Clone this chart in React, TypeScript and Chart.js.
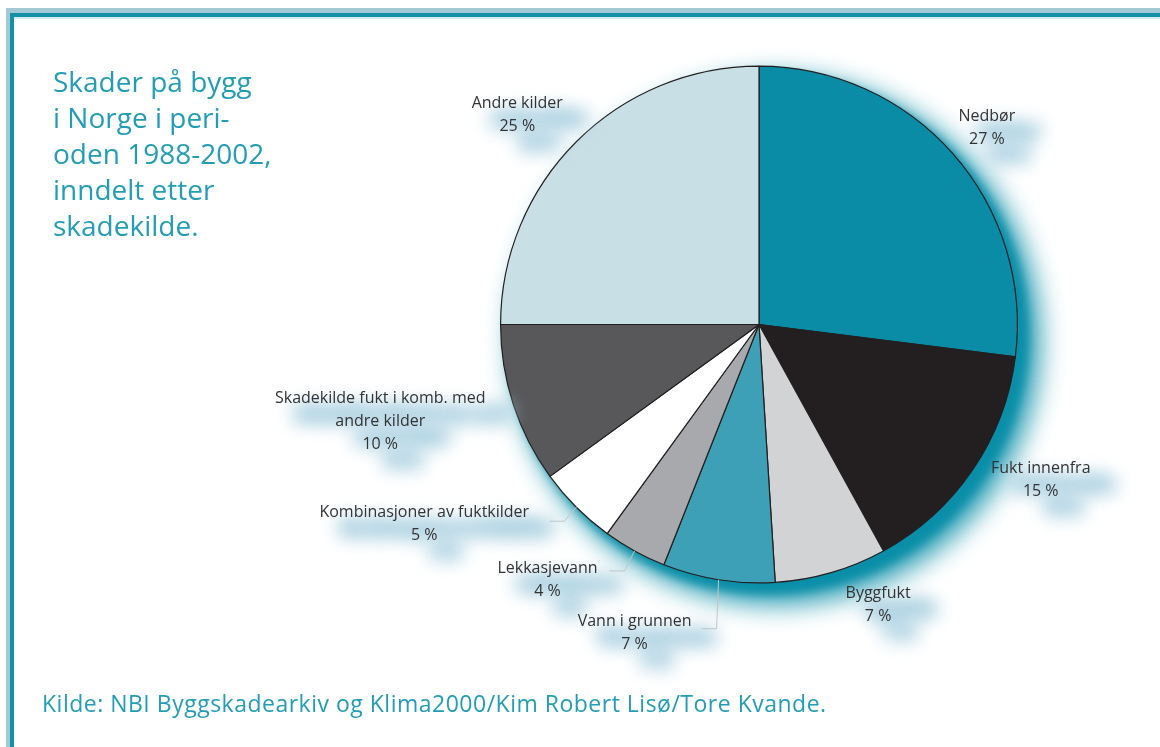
import React, { useEffect, useRef } from "react";
import { Chart, registerables } from "chart.js";

Chart.register(...registerables);

// ---- data ----
const categories = [
  "Nedbør",
  "Fukt innenfra",
  "Byggfukt",
  "Vann i grunnen",
  "Lekkasjevann",
  "Kombinasjoner av fuktkilder",
  "Skadekilde fukt i komb. med andre kilder",
  "Andre kilder",
];
const labelLines = [
  ["Nedbør"],
  ["Fukt innenfra"],
  ["Byggfukt"],
  ["Vann i grunnen"],
  ["Lekkasjevann"],
  ["Kombinasjoner av fuktkilder"],
  ["Skadekilde fukt i komb. med", "andre kilder"],
  ["Andre kilder"],
];
const shares = [27, 15, 7, 7, 4, 5, 10, 25];
const sliceColors = [
  "#0a8ca6",
  "#231f20",
  "#d1d3d4",
  "#3ea0b7",
  "#a7a9ac",
  "#ffffff",
  "#58585a",
  "#c9dfe6",
];
const titleLines = ["Skader på bygg", "i Norge i peri-", "oden 1988-2002,", "inndelt etter", "skadekilde."];
const sourceText = "Kilde: NBI Byggskadearkiv og Klima2000/Kim Robert Lisø/Tore Kvande.";

// ---- layout (label anchor offsets from the slice's outer edge at its mid-angle) ----
const LABEL_OFFSETS: number[][] = [
  [34, -37],
  [68, -1],
  [47, 21],
  [-84, 42],
  [-87, 17],
  [-152, 5],
  [-133, -6],
  [-59, -38],
];
const LEADER_ELBOWS: (number[] | null)[] = [null, null, null, [-2, 49], [-10, 20], [-12, 14], null, null];

const TEAL = "#239cb6";

const shadowPlugin = {
  id: "pieShadow",
  beforeDatasetsDraw(chart: any) {
    const meta = chart.getDatasetMeta(0);
    const arc = meta.data[0];
    if (!arc) return;
    const { x, y, outerRadius } = arc.getProps(["x", "y", "outerRadius"], true);
    const ctx = chart.ctx;
    ctx.save();
    ctx.filter = "blur(13px)";
    ctx.fillStyle = "rgba(10,142,168,0.85)";
    ctx.beginPath();
    ctx.arc(x + 17, y + 16, outerRadius + 6, 0, Math.PI * 2);
    ctx.fill();
    ctx.filter = "blur(5px)";
    ctx.fillStyle = "#0a8ea8";
    ctx.beginPath();
    ctx.arc(x + 10, y + 10, outerRadius + 1, 0, Math.PI * 2);
    ctx.fill();
    ctx.restore();
  },
};

const labelPlugin = {
  id: "pieLabels",
  afterDatasetsDraw(chart: any) {
    const meta = chart.getDatasetMeta(0);
    const ctx = chart.ctx;
    const data = chart.data.datasets[0].data as number[];
    const items: { lx: number; ly: number; lines: string[] }[] = [];
    meta.data.forEach((arc: any, i: number) => {
      const { x, y, startAngle, endAngle, outerRadius } = arc.getProps(
        ["x", "y", "startAngle", "endAngle", "outerRadius"],
        true
      );
      const mid = (startAngle + endAngle) / 2;
      const ex = x + Math.cos(mid) * outerRadius;
      const ey = y + Math.sin(mid) * outerRadius;
      const elbow = LEADER_ELBOWS[i];
      if (elbow) {
        ctx.save();
        ctx.strokeStyle = "#c4c4c4";
        ctx.lineWidth = 1;
        ctx.beginPath();
        ctx.moveTo(ex, ey);
        ctx.lineTo(ex + elbow[0], ey + elbow[1]);
        ctx.lineTo(ex + elbow[0] - 15, ey + elbow[1]);
        ctx.stroke();
        ctx.restore();
      }
      items.push({
        lx: ex + LABEL_OFFSETS[i][0],
        ly: ey + LABEL_OFFSETS[i][1],
        lines: [...labelLines[i], `${data[i]} %`],
      });
    });
    ctx.save();
    ctx.font = "16px 'Open Sans'";
    ctx.textAlign = "center";
    ctx.textBaseline = "middle";
    // soft pale-blue smudges behind the labels
    ctx.filter = "blur(9px)";
    ctx.strokeStyle = "rgba(165,205,222,0.8)";
    ctx.fillStyle = "rgba(165,205,222,0.8)";
    ctx.lineWidth = 10;
    ctx.lineJoin = "round";
    items.forEach(({ lx, ly, lines }) =>
      lines.forEach((t, k) => {
        ctx.strokeText(t, lx + 22, ly + 16 + k * 23);
        ctx.fillText(t, lx + 22, ly + 16 + k * 23);
      })
    );
    ctx.filter = "none";
    ctx.fillStyle = "#333335";
    items.forEach(({ lx, ly, lines }) => lines.forEach((t, k) => ctx.fillText(t, lx, ly + k * 23)));
    ctx.restore();
  },
};

export default function App() {
  const canvasRef = useRef<HTMLCanvasElement | null>(null);

  useEffect(() => {
    document.body.style.margin = "0";
    const canvas = canvasRef.current;
    if (!canvas) return;
    const chart = new Chart(canvas, {
      type: "pie",
      data: {
        labels: categories,
        datasets: [
          {
            data: shares,
            backgroundColor: sliceColors,
            borderColor: "#231f20",
            borderWidth: 1.2,
          },
        ],
      },
      options: {
        animation: false,
        responsive: false,
        devicePixelRatio: 1,
        layout: { padding: { left: 500, right: 142, top: 65, bottom: 163 } },
        plugins: {
          legend: { display: false },
          tooltip: { enabled: false },
        },
      },
      plugins: [shadowPlugin, labelPlugin],
    });
    return () => chart.destroy();
  }, []);

  return (
    <div
      style={{
        position: "relative",
        width: 1160,
        height: 747,
        background: "#ffffff",
        overflow: "hidden",
        fontFamily: "'Open Sans', sans-serif",
      }}
    >
      {/* frame */}
      <div style={{ position: "absolute", left: 6, top: 8, width: 1154, height: 6, background: "#a4c9d6" }} />
      <div style={{ position: "absolute", left: 6, top: 8, width: 5, height: 739, background: "#a4c9d6" }} />
      <div style={{ position: "absolute", left: 10, top: 13, width: 1150, height: 4, background: "#1591a6" }} />
      <div style={{ position: "absolute", left: 10, top: 13, width: 4, height: 734, background: "#1591a6" }} />
      <div style={{ position: "absolute", left: 14, top: 17, width: 1146, height: 2, background: "#d6eef3" }} />

      <canvas
        ref={canvasRef}
        width={1160}
        height={747}
        style={{ position: "absolute", left: 0, top: 0, width: 1160, height: 747 }}
      />

      <div
        style={{
          position: "absolute",
          left: 53,
          top: 63,
          fontSize: 28,
          lineHeight: "36px",
          color: TEAL,
          whiteSpace: "pre",
        }}
      >
        {titleLines.map((t) => (
          <div key={t}>{t}</div>
        ))}
      </div>

      <div
        style={{
          position: "absolute",
          left: 42,
          top: 688,
          fontSize: 23,
          letterSpacing: "0.5px",
          lineHeight: "30px",
          color: TEAL,
          whiteSpace: "nowrap",
        }}
      >
        {sourceText}
      </div>
    </div>
  );
}
